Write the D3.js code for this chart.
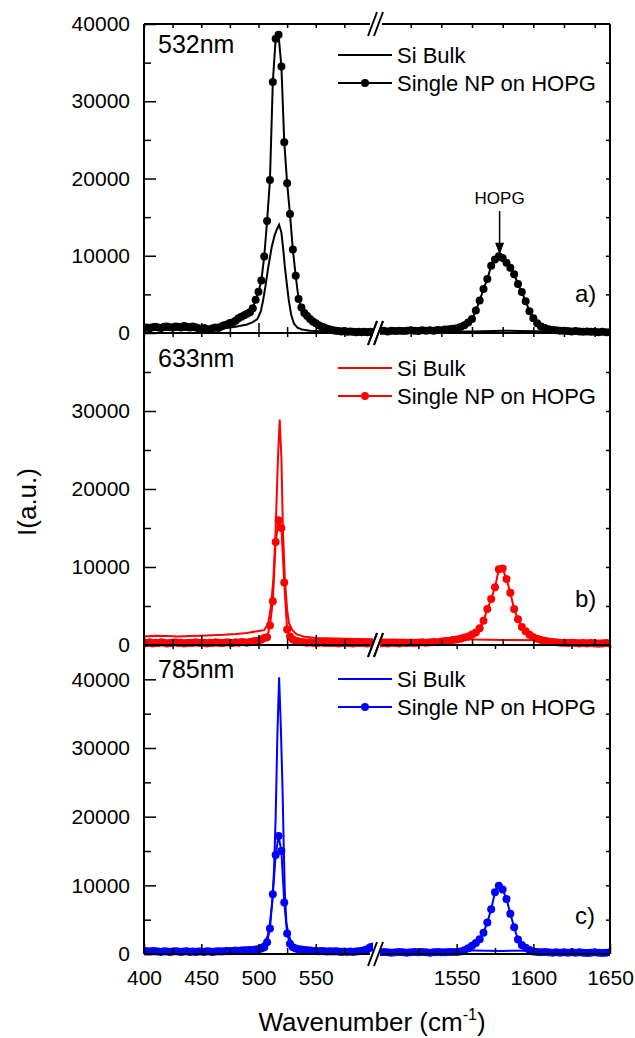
<!DOCTYPE html>
<html>
<head>
<meta charset="utf-8">
<script src="https://cdn.jsdelivr.net/npm/d3@7"></script>
<style>
  body { margin: 0; background: #fff; }
  text { font-family: Arial, "Liberation Sans", sans-serif; }
</style>
</head>
<body>
<svg id="chart" width="635" height="1038"></svg>
<script>
// spectra: NP series are sampled on a regular wavenumber grid, bulk series as [wn, I] pairs
var wn_left_start = 400, wn_right_start = 1500, wn_step = 2.5;

var np_a_left = [650,700,600,750,800,700,650,800,850,750,700,850,800,700,900,800,700,850,750,600,
  550,650,500,450,600,700,650,850,1000,1100,1300,1350,1600,1900,2100,2300,2500,2700,3200,4300,
  5350,6800,9900,14500,19800,32500,38100,38600,34500,24700,19400,15400,10800,7400,4400,3300,2600,2200,1800,1500,
  1250,1000,850,700,550,450,350,300,250,200,250,150,200,150,100,150,100,150,100,150,
  100];
var np_a_right = [250,300,200,300,250,300,250,300,350,300,250,350,300,350,300,400,350,450,500,550,
  600,780,1000,1350,1800,2900,4200,5700,7000,8700,9500,9950,9700,9100,8450,7600,6350,5300,4100,2800,
  1900,1250,850,650,500,400,350,300,300,250,200,250,200,150,200,150,150,100,150,100,
  100];
var bulk_a_left = [[400,400],[410,450],[420,400],[430,450],[440,400],[450,350],[460,450],[470,600],[480,800],
  [490,1100],[495,1400],[499,1800],[502,2800],[504,4200],[506,6000],[508.5,8500],[511.5,11100],[514,12600],
  [516,13400],[518,14000],[520,13000],[521.5,11000],[523,8600],[525,6000],[526.5,4200],[528.5,2400],[531,1200],
  [534,700],[538,450],[545,300],[560,200],[580,150],[600,100]];
var bulk_a_right = [[1500,150],[1530,200],[1560,200],[1580,300],[1610,200],[1650,150]];

var np_b_left = [300,250,350,200,300,250,350,300,200,250,300,350,250,300,200,250,300,250,350,300,
  250,300,200,300,250,350,300,250,300,350,300,250,350,300,400,350,300,400,450,500,
  550,700,900,1000,2500,5600,13200,16000,15000,8000,2000,1100,700,550,450,400,350,300,350,300,
  250,300,350,250,300,250,300,250,200,300,250,300,250,200,300,250,300,250,200,250,
  300];
var np_b_right = [200,250,200,300,250,200,300,250,300,250,300,350,300,350,400,350,450,500,550,650,
  700,800,950,1100,1350,1600,2150,3100,4600,5900,7400,9700,9800,8450,6700,4600,3300,2300,1750,1300,
  1000,800,650,550,450,400,350,300,300,250,300,250,200,250,200,250,200,150,200,250,
  200];
var bulk_b_left = [[400,1100],[410,1200],[420,1150],[430,1100],[440,1150],[450,1200],[460,1250],[470,1300],
  [480,1400],[490,1550],[500,1800],[505,1900],[508.5,2800],[511,5000],[513,8500],[515,14800],[517,24000],
  [518.5,28900],[520,24000],[521.3,14800],[523,8500],[525,4500],[526.6,2800],[529.6,1900],[533,1400],
  [540,1050],[550,900],[575,800],[600,750]];
var bulk_b_right = [[1500,700],[1530,650],[1560,700],[1580,650],[1610,600],[1650,550]];

var np_c_left = [450,400,350,450,400,350,300,400,350,300,350,400,350,300,350,400,300,350,300,350,
  350,300,400,350,300,350,400,350,400,450,400,450,500,450,500,550,550,600,600,650,
  700,800,1000,1700,3700,8700,14400,17200,15000,7500,3000,1500,1000,800,700,650,600,550,500,450,
  450,400,450,400,350,400,350,400,350,300,350,300,350,300,350,400,450,550,700,1000,
  1100];
var np_c_right = [250,300,250,200,250,300,250,200,250,300,250,300,250,200,250,300,250,250,300,300,
  300,380,560,850,1200,1600,2150,3100,4600,6500,9000,9950,9400,8000,5850,3900,2100,1300,900,600,
  350,300,250,300,250,200,250,200,250,200,250,200,250,200,150,200,250,200,150,200,
  250];
var bulk_c_left = [[400,600],[420,550],[440,500],[460,550],[480,650],[490,800],[500,1100],[505,1600],
  [508,2600],[510,4500],[512,7500],[513.5,12000],[515,20000],[516.5,32000],[518,40300],[519.5,33000],
  [521,24000],[522,16000],[523,9000],[524.4,4500],[526,3000],[528,2000],[531,1300],[535,900],[545,700],
  [560,600],[580,550],[600,500]];
var bulk_c_right = [[1500,500],[1530,450],[1560,500],[1580,450],[1610,500],[1650,450]];

var laser_lines = ["532nm", "633nm", "785nm"];
var panel_tags = ["a)", "b)", "c)"];
var series_names = ["Si Bulk", "Single NP on HOPG"];
var y_max = [40000, 40000, 45000];
var y_tick_labels = [[0, 10000, 20000, 30000, 40000], [0, 10000, 20000, 30000], [0, 10000, 20000, 30000, 40000]];
var x_ticks_left = [400, 450, 500, 550], x_minor_left = [425, 475, 525, 575];
var x_ticks_right = [1550, 1600, 1650], x_minor_right = [1525, 1575, 1625];
var x_ticks_right_ab = [1520, 1540, 1560, 1580, 1600, 1620, 1640];
var hopg_wn = 1578, hopg_peak = 10000;

// layout
var colors = ["#000000", "#ff0000", "#0000ff"];
var panel_top = [24, 333, 645], panel_bot = [333, 645, 954];
var legend_y = [[55, 83], [368, 396], [679, 707]];
var name_y = [53, 367, 678], tag_y = [302, 607, 924];
var x0 = 144, x1 = 610, brk_l = 373, brk_r = 380;

var svg = d3.select("#chart");
var defs = svg.append("defs");

var xl = d3.scaleLinear().domain([400, 600]).range([x0, brk_l]),
    xr = d3.scaleLinear().domain([1500, 1650]).range([brk_r, x1]);

var grid_left = np_a_left.map(function(d, i) { return wn_left_start + i * wn_step; }),
    grid_right = np_a_right.map(function(d, i) { return wn_right_start + i * wn_step; });

var panels = [
    {np: [np_a_left, np_a_right], bulk: [bulk_a_left, bulk_a_right]},
    {np: [np_b_left, np_b_right], bulk: [bulk_b_left, bulk_b_right]},
    {np: [np_c_left, np_c_right], bulk: [bulk_c_left, bulk_c_right]}
];

function style_axis(g, size) {
    g.select(".domain").remove();
    g.selectAll(".tick line").attr("stroke-width", 1.5);
    g.attr("font-size", size).attr("font-family", "Arial, 'Liberation Sans', sans-serif");
}

panels.forEach(function(p, k) {
    var top = panel_top[k], bot = panel_bot[k], col = colors[k];
    var y = d3.scaleLinear().domain([0, y_max[k]]).range([bot, top]);
    var g = svg.append("g");

    // clip each half of the broken axis
    [[x0, brk_l], [brk_r, x1]].forEach(function(r, s) {
        defs.append("clipPath").attr("id", "clip" + k + s)
            .append("rect")
            .attr("x", r[0]).attr("y", top - 6)
            .attr("width", r[1] - r[0]).attr("height", bot - top + 12);
    });

    [xl, xr].forEach(function(xs, s) {
        var grid = s === 0 ? grid_left : grid_right;
        var np = d3.zip(grid, p.np[s]);
        var line = d3.line()
            .x(function(d) { return xs(d[0]); })
            .y(function(d) { return y(d[1]); });
        var sg = g.append("g").attr("clip-path", "url(#clip" + k + s + ")");

        sg.append("path")
            .datum(p.bulk[s])
            .attr("d", line)
            .attr("fill", "none")
            .attr("stroke", col)
            .attr("stroke-width", 2);

        sg.append("path")
            .datum(np)
            .attr("d", line)
            .attr("fill", "none")
            .attr("stroke", col)
            .attr("stroke-width", 2);

        sg.selectAll("circle")
            .data(np)
            .enter().append("circle")
            .attr("cx", function(d) { return xs(d[0]); })
            .attr("cy", function(d) { return y(d[1]); })
            .attr("r", 4)
            .attr("fill", col);
    });

    // y axes
    g.append("g").attr("transform", "translate(" + x0 + ",0)")
        .call(d3.axisLeft(y).tickValues(y_tick_labels[k]).tickSize(-12).tickPadding(14).tickFormat(d3.format("d")))
        .call(style_axis, 21);
    g.append("g").attr("transform", "translate(" + x0 + ",0)")
        .call(d3.axisLeft(y).tickValues(d3.range(5000, y_max[k], 10000)).tickSize(-7).tickFormat(""))
        .call(style_axis, 21);
    g.append("g").attr("transform", "translate(" + x1 + ",0)")
        .call(d3.axisRight(y).tickValues(d3.range(5000, y_max[k], 5000)).tickSize(-4).tickFormat(""))
        .call(style_axis, 21);

    // x axes (bottom, inward ticks)
    var last = k === 2;
    g.append("g").attr("transform", "translate(0," + bot + ")")
        .call(d3.axisBottom(xl).tickValues(x_ticks_left).tickSize(-10).tickPadding(16)
            .tickFormat(last ? d3.format("d") : ""))
        .call(style_axis, 21);
    g.append("g").attr("transform", "translate(0," + bot + ")")
        .call(d3.axisBottom(xl).tickValues(x_minor_left).tickSize(-6).tickFormat(""))
        .call(style_axis, 21);
    if (last) {
        g.append("g").attr("transform", "translate(0," + bot + ")")
            .call(d3.axisBottom(xr).tickValues(x_ticks_right).tickSize(-10).tickPadding(16).tickFormat(d3.format("d")))
            .call(style_axis, 21);
        g.append("g").attr("transform", "translate(0," + bot + ")")
            .call(d3.axisBottom(xr).tickValues(x_minor_right).tickSize(-6).tickFormat(""))
            .call(style_axis, 21);
    } else {
        g.append("g").attr("transform", "translate(0," + bot + ")")
            .call(d3.axisBottom(xr).tickValues(x_ticks_right_ab).tickSize(-6).tickFormat(""))
            .call(style_axis, 21);
    }
    // top ticks
    g.append("g").attr("transform", "translate(0," + top + ")")
        .call(d3.axisTop(xl).tickValues(x_ticks_left.concat(x_minor_left)).tickSize(-4).tickFormat(""))
        .call(style_axis, 21);
    g.append("g").attr("transform", "translate(0," + top + ")")
        .call(d3.axisTop(xr).tickValues(last ? x_ticks_right.concat(x_minor_right) : x_ticks_right_ab).tickSize(-4).tickFormat(""))
        .call(style_axis, 21);

    // frame with broken top/bottom edges
    var frame = g.append("g").attr("stroke", "#000").attr("stroke-width", 2).attr("fill", "none");
    frame.append("line").attr("x1", x0).attr("x2", x0).attr("y1", top).attr("y2", bot);
    frame.append("line").attr("x1", x1).attr("x2", x1).attr("y1", top).attr("y2", bot);
    [top, bot].forEach(function(yy) {
        frame.append("line").attr("x1", x0).attr("x2", brk_l - 3).attr("y1", yy).attr("y2", yy);
        frame.append("line").attr("x1", brk_r + 2).attr("x2", x1).attr("y1", yy).attr("y2", yy);
        frame.append("line").attr("x1", brk_l - 5).attr("y1", yy + 12).attr("x2", brk_l + 4).attr("y2", yy - 12);
        frame.append("line").attr("x1", brk_l + 1).attr("y1", yy + 12).attr("x2", brk_l + 10).attr("y2", yy - 12);
    });

    // legend
    series_names.forEach(function(name, j) {
        var ly = legend_y[k][j];
        g.append("line").attr("x1", 338).attr("x2", 392).attr("y1", ly).attr("y2", ly)
            .attr("stroke", col).attr("stroke-width", 2);
        if (j === 1) {
            g.append("circle").attr("cx", 365).attr("cy", ly).attr("r", 4).attr("fill", col);
        }
        g.append("text").attr("x", 397).attr("y", ly).attr("dy", "0.35em")
            .attr("font-size", 22).text(name);
    });

    g.append("text").attr("x", 158).attr("y", name_y[k]).attr("font-size", 25).text(laser_lines[k]);
    g.append("text").attr("x", 575).attr("y", tag_y[k]).attr("font-size", 24).text(panel_tags[k]);

    if (k === 0) {
        var hx = xr(hopg_wn), hy = y(hopg_peak);
        g.append("text").attr("x", hx).attr("y", 204).attr("text-anchor", "middle")
            .attr("font-size", 17).text("HOPG");
        g.append("line").attr("x1", hx).attr("x2", hx).attr("y1", 211).attr("y2", hy - 10)
            .attr("stroke", "#000").attr("stroke-width", 1.5);
        g.append("path")
            .attr("d", "M" + (hx - 4.5) + "," + (hy - 13) + "L" + (hx + 4.5) + "," + (hy - 13) + "L" + hx + "," + (hy - 1) + "Z")
            .attr("fill", "#000");
    }
});

// axis titles
svg.append("text")
    .attr("transform", "translate(27,502) rotate(-90)")
    .attr("text-anchor", "middle").attr("dy", "0.35em")
    .attr("font-size", 26).text("I(a.u.)");

var xt = svg.append("text").attr("x", 372).attr("y", 1031)
    .attr("text-anchor", "middle").attr("font-size", 26);
xt.append("tspan").text("Wavenumber (cm");
xt.append("tspan").attr("font-size", 16).attr("dy", -11).text("-1");
xt.append("tspan").attr("dy", 11).text(")");
</script>
</body>
</html>
